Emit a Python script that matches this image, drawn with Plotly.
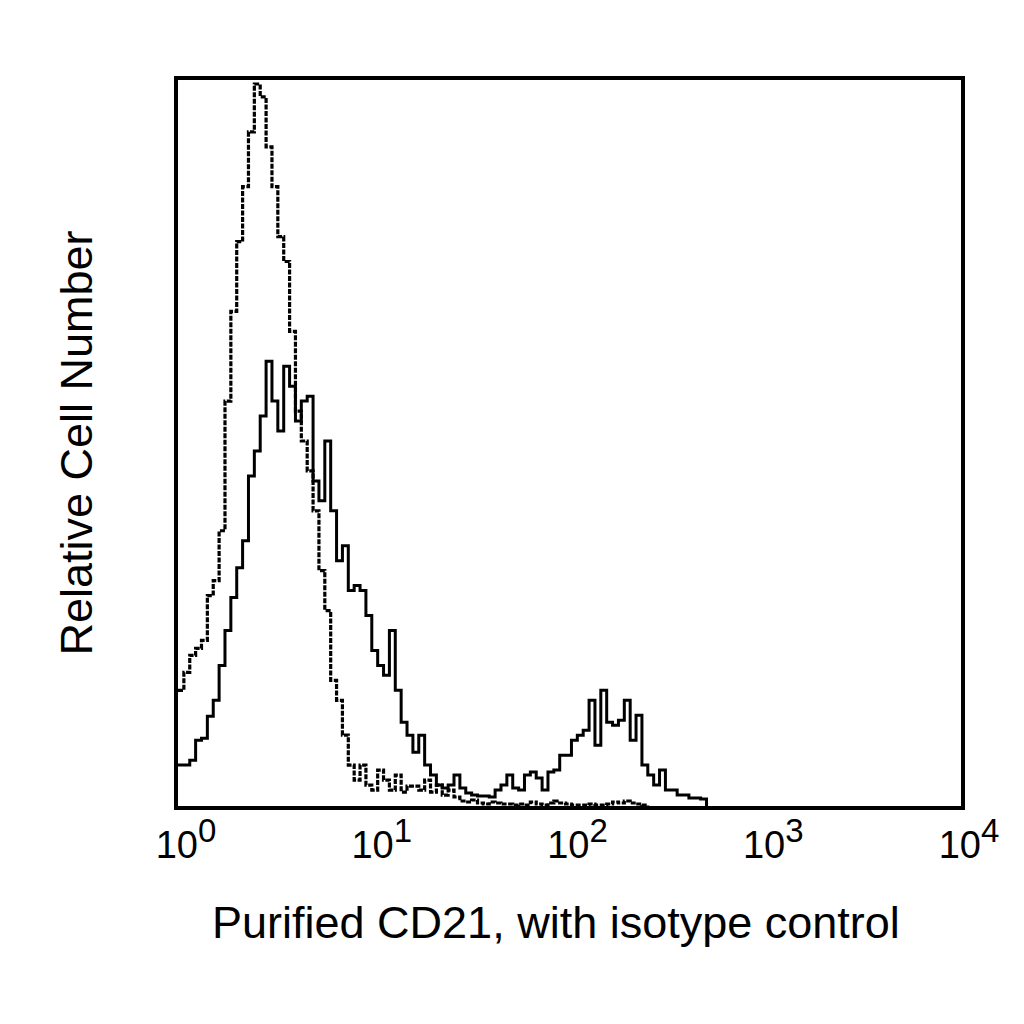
import numpy as np
import plotly.graph_objects as go

# Histogram channel width in decades (log10 units); channel i starts at 10**(i*CH_WIDTH)
CH_WIDTH = 0.03

# Relative cell counts per channel
cd21_counts = [
    41, 41, 46, 66, 68, 90, 106, 141, 176, 209,
    239, 266, 331, 356, 391, 446, 406, 376, 441, 421,
    386, 406, 411, 326, 306, 366, 296, 246, 261, 216,
    221, 216, 191, 156, 141, 131, 176, 116, 84, 71,
    54, 71, 41, 31, 21, 18, 21, 31, 18, 13,
    11, 10, 10, 9, 16, 21, 31, 18, 16, 31,
    34, 28, 16, 34, 36, 51, 51, 66, 71, 76,
    106, 61, 116, 84, 81, 86, 106, 66, 91, 41,
    31, 21, 36, 16, 16, 11, 11, 8, 8, 7,
    0,
]

isotype_counts = [
    116, 134, 151, 158, 166, 211, 226, 276, 406, 496,
    566, 621, 676, 724, 711, 661, 621, 571, 546, 476,
    396, 366, 336, 296, 236, 196, 126, 106, 71, 41,
    26, 41, 21, 16, 36, 26, 16, 31, 14, 20,
    20, 16, 26, 14, 21, 11, 16, 9, 5, 4,
    6, 3, 2, 4, 3, 2, 2, 1, 2, 1,
    4, 2, 1, 3, 5, 3, 2, 1, 1, 1,
    2, 1, 1, 2, 4, 3, 5, 3, 2, 1,
    0,
]

tick_vals = [1, 10, 100, 1000, 10000]
tick_exponents = ["0", "1", "2", "3", "4"]

x_title = "Purified CD21, with isotype control"
y_title = "Relative Cell Number"

tick_text = [
    '10<sup><span style="font-size:33px">' + e + "</span></sup>" for e in tick_exponents
]


def channel_edges(n):
    return 10 ** (np.arange(n) * CH_WIDTH)


fig = go.Figure()
fig.add_trace(go.Scatter(
    x=channel_edges(len(isotype_counts)), y=isotype_counts,
    mode="lines", line=dict(color="black", width=3.2, dash="5px,1.5px", shape="hv"),
    name="Isotype control", showlegend=False,
))
fig.add_trace(go.Scatter(
    x=channel_edges(len(cd21_counts)), y=cd21_counts,
    mode="lines", line=dict(color="black", width=3, shape="hv"),
    name="Purified CD21", showlegend=False,
))

font_family = "Liberation Sans, Arial, sans-serif"

fig.update_layout(
    width=1024, height=1024,
    margin=dict(l=170, r=71, t=72, b=226),
    paper_bgcolor="white", plot_bgcolor="white",
    font=dict(family=font_family, color="black"),
    xaxis=dict(
        type="log", range=[0, 4],
        tickvals=tick_vals, ticktext=tick_text,
        tickfont=dict(size=38, family=font_family, color="black"),
        ticks="", showgrid=False, zeroline=False,
        showline=True, mirror=True, linecolor="black", linewidth=4,
        ticklabelstandoff=2, ticklabelshift=8,
    ),
    yaxis=dict(
        range=[0, 728],
        showticklabels=False, ticks="", showgrid=False, zeroline=False,
        showline=True, mirror=True, linecolor="black", linewidth=4,
        title=dict(text=y_title, font=dict(size=45, family=font_family, color="black"), standoff=68),
    ),
    annotations=[dict(
        text=x_title, xref="paper", yref="paper", x=0.483, y=-0.122,
        xanchor="center", yanchor="top", showarrow=False,
        font=dict(size=45, family=font_family, color="black"),
    )],
)

fig.write_html("out.html")
